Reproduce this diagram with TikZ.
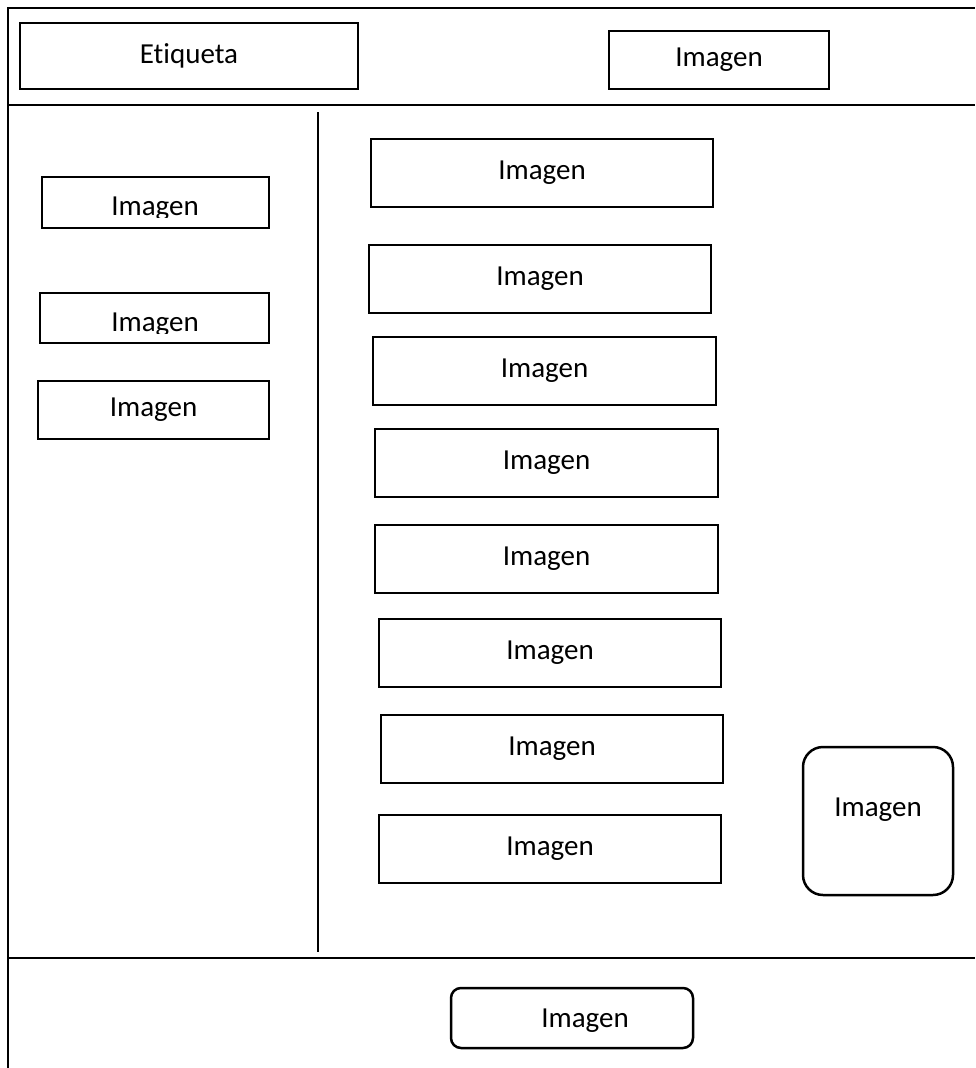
\documentclass[tikz,border=0pt]{standalone}
\usepackage{fontspec}
\setmainfont[Ligatures={NoCommon}]{Carlito}
\begin{document}
\begin{tikzpicture}[x=1pt,y=-1pt,
  frameline/.style={line width=2pt},
  divider/.style={line width=1.5pt},
  box/.style={draw, line width=2.5pt, inner sep=0pt, font=\fontsize{29}{34}\selectfont},
  rbox/.style={box, rounded corners=#1},
  lbl/.style={inner sep=0pt, font=\fontsize{29}{34}\selectfont}]
\useasboundingbox (0,0) rectangle (975,1068);
% frame
\coordinate (tl) at (8,8);
\coordinate (tr) at (975,8);
\coordinate (bl) at (8,1068);
\draw[frameline] (bl) -- (tl) -- (tr);
\draw[frameline] (8,105) -- (975,105);
\draw[frameline] (8,958) -- (975,958);
\draw[divider] (318,112) -- (318,952);
% header
\node[box, minimum width=338, minimum height=66] (etq) at (189,56) {Etiqueta};
\node[box, minimum width=220, minimum height=58] (himg) at (719,60) {Imagen};
% left column
\node[box, minimum width=227, minimum height=51] (l1) at (155.5,202.5) {};
\begin{scope}
\clip (42,177) rectangle (269,217);
\node[lbl, anchor=base] (l1t) at (155,215) {Imagen};
\end{scope}
\node[box, minimum width=229, minimum height=50] (l2) at (154.5,318) {};
\begin{scope}
\clip (40,293) rectangle (269,333);
\node[lbl, anchor=base] (l2t) at (155,331) {Imagen};
\end{scope}
\node[box, minimum width=231, minimum height=58] (l3) at (153.5,410) {Imagen};
% centre column
\node[box, minimum width=342, minimum height=68] (c1) at (542,173) {Imagen};
\node[box, minimum width=342, minimum height=68] (c2) at (540,279) {Imagen};
\node[box, minimum width=343, minimum height=68] (c3) at (544.5,371) {Imagen};
\node[box, minimum width=343, minimum height=68] (c4) at (546.5,463) {Imagen};
\node[box, minimum width=343, minimum height=68] (c5) at (546.5,559) {Imagen};
\node[box, minimum width=342, minimum height=68] (c6) at (550,653) {Imagen};
\node[box, minimum width=342, minimum height=68] (c7) at (552,749) {Imagen};
\node[box, minimum width=342, minimum height=68] (c8) at (550,849) {Imagen};
% right rounded
\node[rbox=20pt, minimum width=150, minimum height=148] (r1) at (878,821) {};
\node[lbl] (r1t) at (878,810) {Imagen};
% footer
\node[rbox=10pt, minimum width=242, minimum height=60] (f1) at (572,1018) {};
\node[lbl] (f1t) at (585,1021) {Imagen};
\end{tikzpicture}
\end{document}
